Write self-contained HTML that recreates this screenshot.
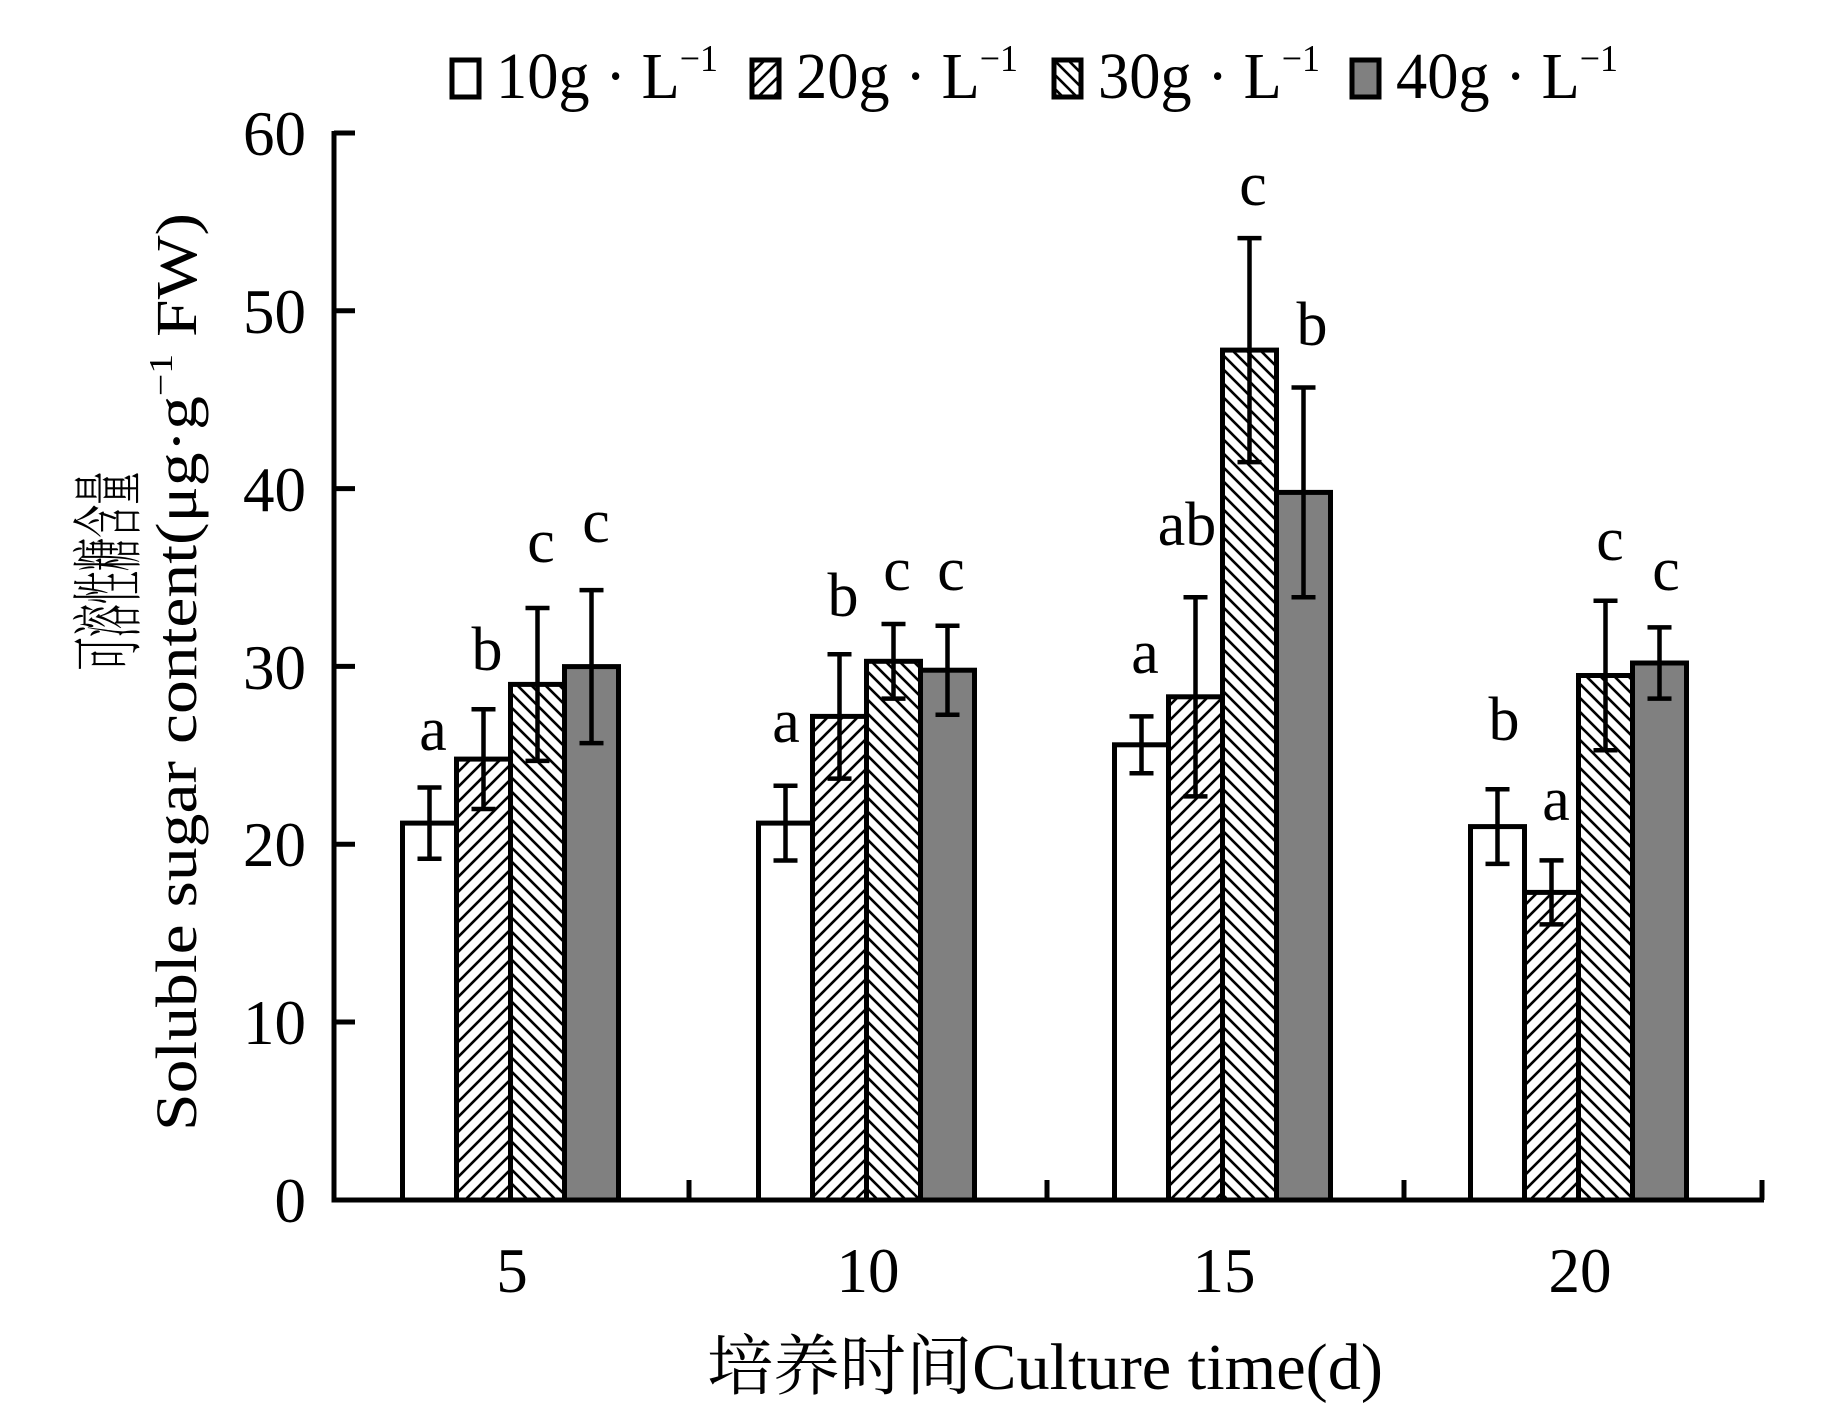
<!DOCTYPE html>
<html><head><meta charset="utf-8"><style>
html,body{margin:0;padding:0;background:#fff;}
svg{display:block;}
text{font-family:"Liberation Serif","Noto Serif CJK SC",serif;fill:#000;}
</style></head><body>
<svg width="1843" height="1417" viewBox="0 0 1843 1417" xmlns="http://www.w3.org/2000/svg">
<defs>
<pattern id="h20" patternUnits="userSpaceOnUse" width="15" height="15">
<path d="M-2,17 L17,-2 M-5,5 L5,-5 M10,20 L20,10" stroke="#000" stroke-width="2.6"/>
</pattern>
<pattern id="h30" patternUnits="userSpaceOnUse" width="14" height="14">
<path d="M-2,-2 L16,16 M-5,9 L5,19 M9,-5 L19,5" stroke="#000" stroke-width="2.6"/>
</pattern>
</defs>

<!-- legend -->
<g font-size="66">
<rect x="452" y="60" width="27" height="37" fill="#fff" stroke="#000" stroke-width="5"/>
<text x="496" y="98" textLength="222" lengthAdjust="spacingAndGlyphs">10g · L<tspan font-size="38" dy="-27">−1</tspan></text>
<rect x="752" y="60" width="27" height="37" fill="url(#h20)" stroke="#000" stroke-width="5"/>
<text x="796" y="98" textLength="222" lengthAdjust="spacingAndGlyphs">20g · L<tspan font-size="38" dy="-27">−1</tspan></text>
<rect x="1054" y="60" width="27" height="37" fill="url(#h30)" stroke="#000" stroke-width="5"/>
<text x="1098" y="98" textLength="222" lengthAdjust="spacingAndGlyphs">30g · L<tspan font-size="38" dy="-27">−1</tspan></text>
<rect x="1352" y="60" width="27" height="37" fill="#808080" stroke="#000" stroke-width="5"/>
<text x="1396" y="98" textLength="222" lengthAdjust="spacingAndGlyphs">40g · L<tspan font-size="38" dy="-27">−1</tspan></text>
</g>

<!-- bars -->
<g stroke="#000" stroke-width="5">
<rect x="402.5" y="823.1" width="54" height="376.9" fill="#fff"/>
<rect x="456.5" y="759.1" width="54" height="440.9" fill="url(#h20)"/>
<rect x="510.5" y="684.4" width="54" height="515.6" fill="url(#h30)"/>
<rect x="564.5" y="666.6" width="54" height="533.4" fill="#808080"/>

<rect x="758.5" y="823.1" width="54" height="376.9" fill="#fff"/>
<rect x="812.5" y="716.4" width="54" height="483.6" fill="url(#h20)"/>
<rect x="866.5" y="661.3" width="54" height="538.7" fill="url(#h30)"/>
<rect x="920.5" y="670.2" width="54" height="529.8" fill="#808080"/>

<rect x="1114.5" y="744.8" width="54" height="455.2" fill="#fff"/>
<rect x="1168.5" y="696.8" width="54" height="503.2" fill="url(#h20)"/>
<rect x="1222.5" y="350.1" width="54" height="849.9" fill="url(#h30)"/>
<rect x="1276.5" y="492.4" width="54" height="707.6" fill="#808080"/>

<rect x="1470.5" y="826.6" width="54" height="373.4" fill="#fff"/>
<rect x="1524.5" y="892.4" width="54" height="307.6" fill="url(#h20)"/>
<rect x="1578.5" y="675.5" width="54" height="524.5" fill="url(#h30)"/>
<rect x="1632.5" y="663" width="54" height="537" fill="#808080"/>
</g>

<!-- error bars -->
<g stroke="#000" stroke-width="4.5" fill="none">
<path d="M429.5,787.5V858.7M417.5,787.5H441.5M417.5,858.7H441.5"/>
<path d="M483.5,709.3V809M471.5,709.3H495.5M471.5,809H495.5"/>
<path d="M537.5,608V760.9M525.5,608H549.5M525.5,760.9H549.5"/>
<path d="M591.5,590.1V743.1M579.5,590.1H603.5M579.5,743.1H603.5"/>

<path d="M785.5,785.8V860.5M773.5,785.8H797.5M773.5,860.5H797.5"/>
<path d="M839.5,654.2V778.6M827.5,654.2H851.5M827.5,778.6H851.5"/>
<path d="M893.5,624V698.6M881.5,624H905.5M881.5,698.6H905.5"/>
<path d="M947.5,625.8V714.7M935.5,625.8H959.5M935.5,714.7H959.5"/>

<path d="M1141.5,716.4V773.3M1129.5,716.4H1153.5M1129.5,773.3H1153.5"/>
<path d="M1195.5,597.2V796.4M1183.5,597.2H1207.5M1183.5,796.4H1207.5"/>
<path d="M1249.5,238.1V462.1M1237.5,238.1H1261.5M1237.5,462.1H1261.5"/>
<path d="M1303.5,387.5V597.3M1291.5,387.5H1315.5M1291.5,597.3H1315.5"/>

<path d="M1497.5,789.3V863.9M1485.5,789.3H1509.5M1485.5,863.9H1509.5"/>
<path d="M1551.5,860.4V924.4M1539.5,860.4H1563.5M1539.5,924.4H1563.5"/>
<path d="M1605.5,600.8V750.2M1593.5,600.8H1617.5M1593.5,750.2H1617.5"/>
<path d="M1659.5,627.4V698.6M1647.5,627.4H1671.5M1647.5,698.6H1671.5"/>
</g>

<!-- letters -->
<g font-size="62" text-anchor="middle">
<text x="433" y="750">a</text>
<text x="487" y="670">b</text>
<text x="541" y="562">c</text>
<text x="596" y="542">c</text>
<text x="786" y="742">a</text>
<text x="843" y="616">b</text>
<text x="897" y="590">c</text>
<text x="951" y="590">c</text>
<text x="1145" y="673">a</text>
<text x="1187" y="545">ab</text>
<text x="1253" y="205">c</text>
<text x="1312" y="345">b</text>
<text x="1504" y="740">b</text>
<text x="1556" y="820">a</text>
<text x="1610" y="560">c</text>
<text x="1666" y="590">c</text>
</g>

<!-- axes -->
<g stroke="#000" stroke-width="5" fill="none">
<path d="M334,131V1200H1764"/>
<path d="M334,133H355M334,310.8H355M334,488.6H355M334,666.4H355M334,844.2H355M334,1022H355"/>
<path d="M689,1200V1180M1047,1200V1180M1404,1200V1180M1762,1200V1180"/>
</g>

<!-- y tick labels -->
<g font-size="63" text-anchor="end">
<text x="306" y="155">60</text>
<text x="306" y="333">50</text>
<text x="306" y="511">40</text>
<text x="306" y="689">30</text>
<text x="306" y="866">20</text>
<text x="306" y="1044">10</text>
<text x="306" y="1222">0</text>
</g>

<!-- x tick labels -->
<g font-size="63" text-anchor="middle">
<text x="512" y="1292">5</text>
<text x="868" y="1292">10</text>
<text x="1224" y="1292">15</text>
<text x="1580" y="1292">20</text>
</g>

<text x="1045" y="1389" font-size="66" text-anchor="middle" textLength="676" lengthAdjust="spacingAndGlyphs">培养时间Culture time(d)</text>

<g transform="translate(134,571) rotate(-90) scale(0.46,1)">
<text x="0" y="0" font-size="72" text-anchor="middle">可溶性糖含量</text>
</g>
<g transform="translate(196,672) rotate(-90)">
<text x="0" y="0" font-size="58" text-anchor="middle" textLength="918" lengthAdjust="spacingAndGlyphs">Soluble sugar content(μg·g<tspan font-size="34" dy="-24">−1</tspan><tspan dy="24"> FW)</tspan></text>
</g>
</svg>
</body></html>
